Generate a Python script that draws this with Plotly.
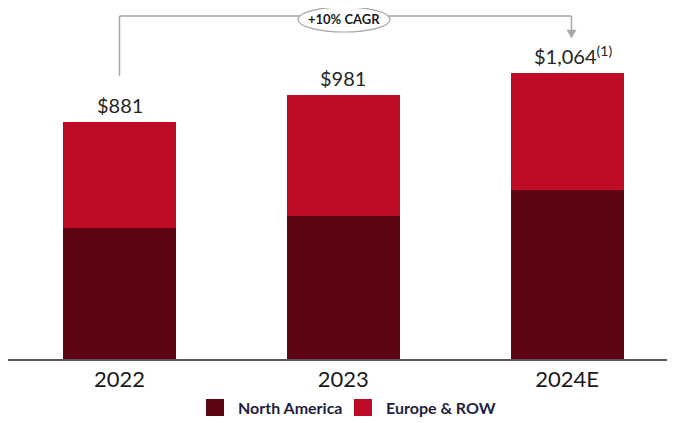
import plotly.graph_objects as go

categories = ["2022", "2023", "2024E"]
north_america = [487, 533, 628]
europe_row = [394, 448, 436]
totals = [881, 981, 1064]
total_labels = ["$881", "$981", "$1,064<sup>(1)</sup>"]
series_names = ["North America", "Europe & ROW"]
cagr_text = "+10% CAGR"

c_na = "#5E0514"
c_eu = "#BE0B27"
c_gray = "#A6A6A6"
font_family = "Lato, 'Open Sans', sans-serif"

fig = go.Figure()
fig.add_trace(go.Bar(x=categories, y=north_america, name=series_names[0],
                     marker=dict(color=c_na, line=dict(width=0))))
fig.add_trace(go.Bar(x=categories, y=europe_row, name=series_names[1],
                     marker=dict(color=c_eu, line=dict(width=0))))

# page has ~8px body margin; figure coordinates are shifted accordingly
OFF = 8
W, H = 675 - OFF, 423 - OFF
BASE = 359 - OFF  # baseline in figure px
X_SCALE = 223.75
x_left = (OFF - 119.5) / X_SCALE


def px_x(px):
    return (px - OFF) / W


def px_y(py):
    return (BASE - (py - OFF)) / BASE


annotations = []
for i, (tot, lab) in enumerate(zip(totals, total_labels)):
    annotations.append(dict(x=i, y=tot, xref="x", yref="y", text=lab,
                            showarrow=False, xanchor="center", yanchor="bottom", yshift=3,
                            xshift=6 if "sup" in lab else 0,
                            font=dict(size=20, color="#262626", family=font_family)))

# CAGR label
annotations.append(dict(x=1.004, y=px_y(19), xref="x", yref="paper",
                        text="<b>" + cagr_text + "</b>", showarrow=False,
                        xanchor="center", yanchor="middle",
                        font=dict(size=13, color="#1a1a1a", family=font_family)))

arrow_x = 2.02
arrow_px = 119.5 + arrow_x * X_SCALE
shapes = [
    dict(type="line", xref="x", yref="paper", x0=0, x1=0, y0=px_y(76), y1=px_y(16),
         line=dict(color=c_gray, width=1.5)),
    dict(type="line", xref="x", yref="paper", x0=0, x1=arrow_x, y0=px_y(16), y1=px_y(16),
         line=dict(color=c_gray, width=1.5)),
    dict(type="line", xref="x", yref="paper", x0=arrow_x, x1=arrow_x, y0=px_y(16), y1=px_y(31),
         line=dict(color=c_gray, width=1.5)),
    dict(type="path", xref="paper", yref="paper",
         path="M {a},{b} L {c},{b} L {d},{e} Z".format(
             a=px_x(arrow_px - 4.5), b=px_y(30), c=px_x(arrow_px + 4.5),
             d=px_x(arrow_px), e=px_y(38)),
         fillcolor=c_gray, line=dict(color=c_gray, width=0.5)),
    dict(type="circle", xref="x", yref="paper", x0=0.798, x1=1.209, y0=px_y(32), y1=px_y(7),
         fillcolor="white", line=dict(color=c_gray, width=1.2)),
]

legend_items = [(series_names[0], c_na, 206, 236), (series_names[1], c_eu, 354, 384)]
for name, col, sx, tx in legend_items:
    shapes.append(dict(type="rect", xref="paper", yref="paper",
                       x0=px_x(sx), x1=px_x(sx + 18), y0=px_y(416), y1=px_y(399),
                       fillcolor=col, line=dict(width=0)))
    annotations.append(dict(x=px_x(tx), y=px_y(407.5), xref="paper", yref="paper",
                            text="<b>" + name + "</b>", showarrow=False,
                            xanchor="left", yanchor="middle",
                            font=dict(size=16, color="#1F1F3F", family=font_family)))

fig.update_layout(
    width=W, height=H,
    margin=dict(l=0, r=0, t=0, b=H - BASE),
    barmode="stack", bargap=0.495,
    plot_bgcolor="white", paper_bgcolor="white",
    showlegend=False,
    xaxis=dict(type="category", range=[x_left, x_left + W / X_SCALE], showline=True,
               linecolor="#595959", linewidth=2, ticks="", showgrid=False,
               tickfont=dict(size=22, color="#1a1a1a", family=font_family)),
    yaxis=dict(visible=False, range=[0, BASE / 0.269], showgrid=False, zeroline=False),
    annotations=annotations,
    shapes=shapes,
)

fig.write_html("out.html")
